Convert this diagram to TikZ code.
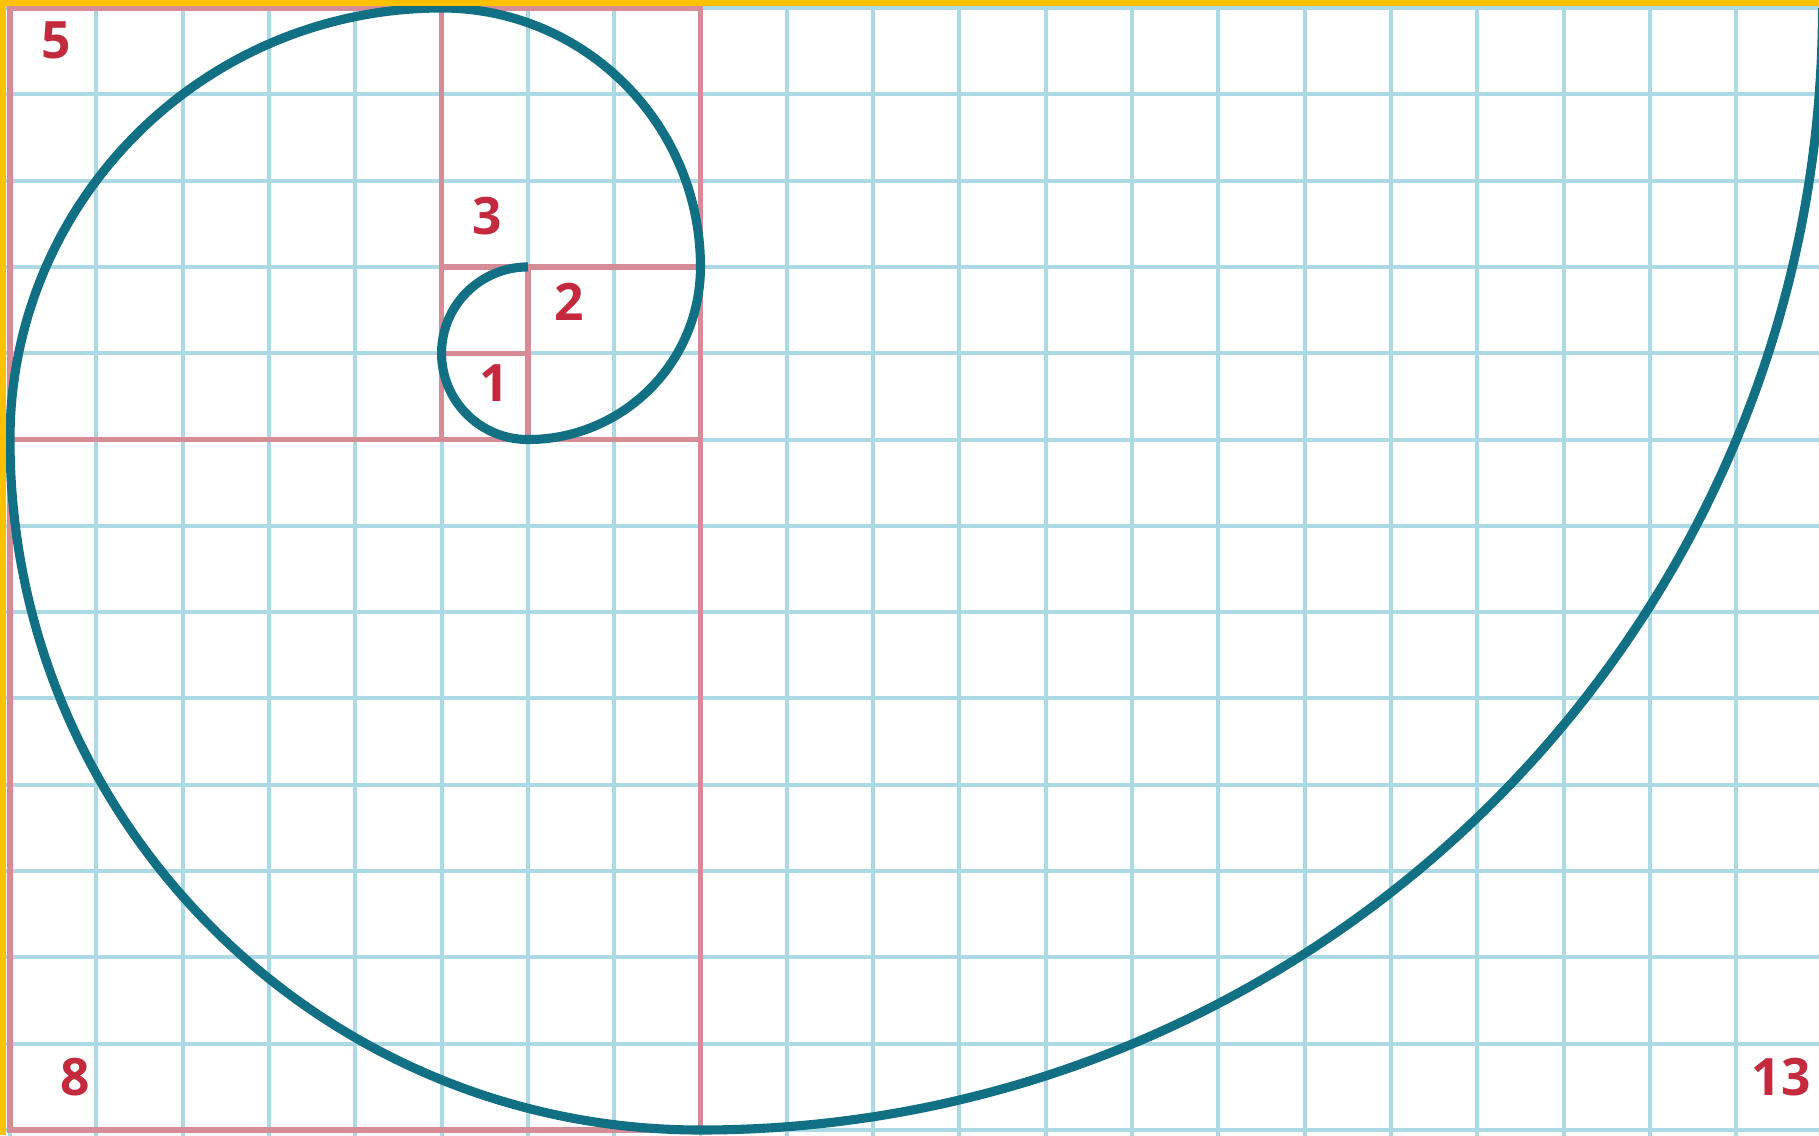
\documentclass[tikz,border=0pt]{standalone}
\usepackage{fontspec}
\setsansfont{Open Sans}
\definecolor{gridcyan}{RGB}{172,218,228}
\definecolor{squarepink}{RGB}{214,140,150}
\definecolor{labelred}{RGB}{196,42,62}
\definecolor{spiralteal}{RGB}{18,112,132}
\definecolor{frameyellow}{RGB}{255,192,0}
\tikzset{
  gridline/.style={draw=gridcyan, line width=1.3pt},
  squareline/.style={draw=squarepink, line width=1.8pt},
  spiralline/.style={draw=spiralteal, line width=3pt},
  numlabel/.style={text=labelred, font=\sffamily\bfseries\fontsize{17}{20}\selectfont, inner sep=0pt},
}
\begin{document}
\begin{tikzpicture}[x=1cm,y=1cm]
\useasboundingbox (-0.116,-0.060) rectangle (20.960,13.093);
\clip (-0.116,-0.060) rectangle (20.960,13.093);
\fill[white] (-0.116,-0.060) rectangle (20.960,13.093);
% grid
\foreach \i in {0,...,21} \draw[gridline] (\i,-0.2) -- (\i,13.2);
\foreach \j in {0,...,13} \draw[gridline] (-0.2,\j) -- (21.2,\j);
% Fibonacci squares
\draw[squareline] (0,0) rectangle (8,13);
\draw[squareline] (0,8) -- (8,8);
\draw[squareline] (5,8) -- (5,13);
\draw[squareline] (5,10) -- (8,10);
\draw[squareline] (6,8) -- (6,10);
\draw[squareline] (5,9) -- (6,9);
% spiral
\draw[spiralline] (6,10) arc[start angle=90,end angle=270,radius=1]
  arc[start angle=270,end angle=360,radius=2]
  arc[start angle=0,end angle=90,radius=3]
  arc[start angle=90,end angle=180,radius=5]
  arc[start angle=180,end angle=270,radius=8]
  arc[start angle=270,end angle=360,radius=13];
% labels
\node[numlabel] (l1) at (5.61,8.65) {1};
\node[numlabel] (l2) at (6.48,9.59) {2};
\node[numlabel] (l3) at (5.53,10.59) {3};
\node[numlabel] (l5) at (0.53,12.62) {5};
\node[numlabel] (l8) at (0.75,0.61) {8};
\node[numlabel] (l13) at (20.52,0.61) {13};
% yellow frame (top and left)
\fill[frameyellow] (-0.116,13.027) rectangle (20.960,13.093);
\fill[frameyellow] (-0.116,-0.060) rectangle (-0.050,13.093);
\end{tikzpicture}
\end{document}
